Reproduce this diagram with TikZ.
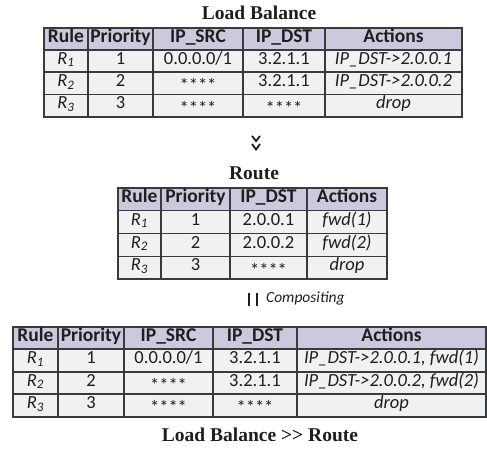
\documentclass[tikz,border=0pt]{standalone}
\usepackage{fontspec}
\setmainfont{Carlito}
\newfontfamily\titlefont{Liberation Serif}
\definecolor{hdrfill}{HTML}{CEC8DF}
\definecolor{bodyfill}{HTML}{F0F1F3}
\definecolor{gridc}{HTML}{3A3A3A}
\definecolor{txt}{HTML}{1E1E1E}
\newcommand{\stars}{\raisebox{-0.28em}{****}}
\begin{document}
\begin{tikzpicture}[x=1pt,y=-1pt,
  gridline/.style={draw=gridc, line width=1.4pt},
  hdr/.style={inner sep=0pt, text height=0.75em, text depth=0.1em, font=\bfseries\fontsize{19.5}{21}\selectfont, text=txt},
  cell/.style={inner sep=0pt, text height=0.75em, text depth=0.1em, font=\fontsize{18.5}{20}\selectfont, text=txt},
  ttl/.style={inner sep=0pt, font=\titlefont\bfseries\fontsize{19.5}{21}\selectfont, text=txt},
  opmark/.style={draw=txt, line width=1.8pt, line join=miter},
  barmark/.style={draw=txt, line width=2.3pt},
  note/.style={inner sep=0pt, anchor=west, font=\itshape\fontsize{15.5}{17}\selectfont, text=txt}]
\useasboundingbox (0,0) rectangle (487,449);

% ---------- Table 1: Load Balance ----------
\fill[hdrfill] (44,28) rectangle (462,50);
\fill[bodyfill] (44,50) rectangle (462,117);
\foreach \y in {50,72,94.5} \draw[gridline] (44,\y) -- (462,\y);
\foreach \x in {88,153,243,325} \draw[gridline] (\x,28) -- (\x,117);
\draw[gridline] (44,28) rectangle (462,117);

\node[ttl] (t1title) at (259,13) {Load Balance};
\node[hdr] (t1h1) at (66,39) {Rule};
\node[hdr] (t1h2) at (120.5,39) {Priority};
\node[hdr] (t1h3) at (198,39) {IP\_SRC};
\node[hdr] (t1h4) at (284,39) {IP\_DST};
\node[hdr] (t1h5) at (393.5,39) {Actions};

\node[cell] (t1a1) at (66,61) {\textit{R\textsubscript{1}}};
\node[cell] (t1a2) at (120.5,61) {1};
\node[cell] (t1a3) at (198,61) {0.0.0.0/1};
\node[cell] (t1a4) at (284,61) {3.2.1.1};
\node[cell] (t1a5) at (393.5,61) {\textit{IP\_DST->2.0.0.1}};

\node[cell] (t1b1) at (66,83.25) {\textit{R\textsubscript{2}}};
\node[cell] (t1b2) at (120.5,83.25) {2};
\node[cell] (t1b3) at (198,83.25) {\stars};
\node[cell] (t1b4) at (284,83.25) {3.2.1.1};
\node[cell] (t1b5) at (393.5,83.25) {\textit{IP\_DST->2.0.0.2}};

\node[cell] (t1c1) at (66,105.75) {\textit{R\textsubscript{3}}};
\node[cell] (t1c2) at (120.5,105.75) {3};
\node[cell] (t1c3) at (198,105.75) {\stars};
\node[cell] (t1c4) at (284,105.75) {\stars};
\node[cell] (t1c5) at (393.5,105.75) {\textit{drop}};

% ---------- sequential operator (>> drawn downward) ----------
\coordinate (seq) at (256,143);
\draw[opmark] ([shift={(-4,-7)}]seq) -- ([shift={(0,-2)}]seq) -- ([shift={(4,-7)}]seq);
\draw[opmark] ([shift={(-4,1)}]seq) -- ([shift={(0,6.5)}]seq) -- ([shift={(4,1)}]seq);

% ---------- Table 2: Route ----------
\node[ttl] (t2title) at (254,173) {Route};
\fill[hdrfill] (118,188) rectangle (387,210.75);
\fill[bodyfill] (118,210.75) rectangle (387,279);
\foreach \y in {210.75,233.5,256.25} \draw[gridline] (118,\y) -- (387,\y);
\foreach \x in {161,230,307} \draw[gridline] (\x,188) -- (\x,279);
\draw[gridline] (118,188) rectangle (387,279);

\node[hdr] (t2h1) at (139.5,199.4) {Rule};
\node[hdr] (t2h2) at (195.5,199.4) {Priority};
\node[hdr] (t2h3) at (268.5,199.4) {IP\_DST};
\node[hdr] (t2h4) at (347,199.4) {Actions};

\node[cell] (t2a1) at (139.5,222.1) {\textit{R\textsubscript{1}}};
\node[cell] (t2a2) at (195.5,222.1) {1};
\node[cell] (t2a3) at (268.5,222.1) {2.0.0.1};
\node[cell] (t2a4) at (347,222.1) {\textit{fwd(1)}};

\node[cell] (t2b1) at (139.5,244.9) {\textit{R\textsubscript{2}}};
\node[cell] (t2b2) at (195.5,244.9) {2};
\node[cell] (t2b3) at (268.5,244.9) {2.0.0.2};
\node[cell] (t2b4) at (347,244.9) {\textit{fwd(2)}};

\node[cell] (t2c1) at (139.5,267.6) {\textit{R\textsubscript{3}}};
\node[cell] (t2c2) at (195.5,267.6) {3};
\node[cell] (t2c3) at (268.5,267.6) {\stars};
\node[cell] (t2c4) at (347,267.6) {\textit{drop}};

% ---------- parallel operator ----------
\coordinate (par) at (253,299.5);
\draw[barmark] ([shift={(-4,-6.5)}]par) -- ([shift={(-4,6.5)}]par);
\draw[barmark] ([shift={(4,-6.5)}]par) -- ([shift={(4,6.5)}]par);
\node[note] (parlbl) at (266,298) {Compositing};

% ---------- Table 3: composed ----------
\fill[hdrfill] (13,327) rectangle (486,349);
\fill[bodyfill] (13,349) rectangle (486,417);
\foreach \y in {349,372,394} \draw[gridline] (13,\y) -- (486,\y);
\foreach \x in {58,124,213,297} \draw[gridline] (\x,327) -- (\x,417);
\draw[gridline] (13,327) rectangle (486,417);

\node[hdr] (t3h1) at (35.5,338) {Rule};
\node[hdr] (t3h2) at (91,338) {Priority};
\node[hdr] (t3h3) at (168.5,338) {IP\_SRC};
\node[hdr] (t3h4) at (255,338) {IP\_DST};
\node[hdr] (t3h5) at (391.5,338) {Actions};

\node[cell] (t3a1) at (35.5,360.5) {\textit{R\textsubscript{1}}};
\node[cell] (t3a2) at (91,360.5) {1};
\node[cell] (t3a3) at (168.5,360.5) {0.0.0.0/1};
\node[cell] (t3a4) at (255,360.5) {3.2.1.1};
\node[cell] (t3a5) at (391.5,360.5) {\textit{IP\_DST->2.0.0.1, fwd(1)}};

\node[cell] (t3b1) at (35.5,383) {\textit{R\textsubscript{2}}};
\node[cell] (t3b2) at (91,383) {2};
\node[cell] (t3b3) at (168.5,383) {\stars};
\node[cell] (t3b4) at (255,383) {3.2.1.1};
\node[cell] (t3b5) at (391.5,383) {\textit{IP\_DST->2.0.0.2, fwd(2)}};

\node[cell] (t3c1) at (35.5,405.5) {\textit{R\textsubscript{3}}};
\node[cell] (t3c2) at (91,405.5) {3};
\node[cell] (t3c3) at (168.5,405.5) {\stars};
\node[cell] (t3c4) at (255,405.5) {\stars};
\node[cell] (t3c5) at (391.5,405.5) {\textit{drop}};

\node[ttl] (t3title) at (260,435) {Load Balance >{}> Route};
\end{tikzpicture}
\end{document}
